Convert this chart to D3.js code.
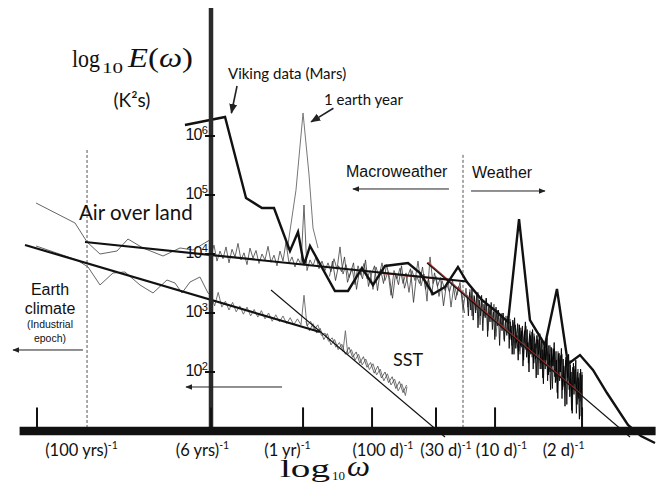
<!DOCTYPE html>
<html><head><meta charset="utf-8">
<script src="https://cdn.jsdelivr.net/npm/d3@7"></script>
<style>html,body{margin:0;padding:0;background:#fff;} svg{display:block;}</style>
</head><body><svg id="c" width="662" height="484"></svg>
<script>
// ---------- DATA (x: log10 omega in 1/yr, y: log10 E in K^2 s) ----------
const xTicks = [-2.225, -0.775, -0.008, 0.567, 1.10, 1.592, 2.317];
const xTickLabels = ["(100 yrs)", "(6 yrs)", "(1 yr)", "(100 d)", "(30 d)", "(10 d)", "(2 d)"];
const xTickLabelCenters = [-1.854, -0.846, -0.138, 0.658, 1.183, 1.646, 2.163];
const yTicks = [6, 5, 4, 3, 2];
const yTickLabels = ["6", "5", "4", "3", "2"];

// Viking (Mars) spectrum
const viking = [[-0.992,6.186],[-0.658,6.322],[-0.483,4.949],[-0.35,4.78],[-0.25,4.78],[-0.117,4.051],
 [-0.05,4.373],[0.0,3.814],[0.05,4.136],[0.258,3.373],[0.367,3.373],[0.483,3.763],[0.575,3.475],
 [0.675,3.797],[0.867,3.847],[0.967,3.678],[1.075,3.322],[1.175,3.441],[1.283,3.78],[1.358,3.525],
 [1.483,3.22],[1.608,3.017],[1.70,2.847],[1.792,4.593],[1.883,2.881],[2.008,2.458],[2.108,3.407],
 [2.20,2.136],[2.30,2.288],[2.408,2.034],[2.525,1.644],[2.70,1.102],[2.808,0.915],[2.925,0.797]];

// Air over land, long-period (low resolution)
const airLow = [[-2.233,4.864],[-1.908,4.525],[-1.808,4.203],[-1.70,4.0],[-1.558,4.051],[-1.467,4.254],
 [-1.342,4.102],[-1.175,3.966],[-1.033,4.102],[-0.925,4.068],[-0.758,4.271]];

// Earth climate / SST long-period (low resolution)
const sstLow = [[-2.233,4.136],[-1.892,3.898],[-1.80,3.78],[-1.70,3.475],[-1.592,3.678],[-1.492,3.695],
 [-1.367,3.475],[-1.258,3.339],[-1.142,3.559],[-1.075,3.508],[-1.017,3.339],[-0.95,3.525],
 [-0.867,3.61],[-0.80,3.339],[-0.775,3.30]];

// Air over land, high resolution
const airHigh = [[-0.775,3.98],[-0.75,4.15],[-0.725,3.88],[-0.70,4.05],[-0.675,3.92],[-0.65,4.12],
 [-0.625,3.85],[-0.60,4.08],[-0.575,3.95],[-0.55,4.18],[-0.525,3.90],[-0.50,4.02],[-0.475,3.82],
 [-0.45,4.10],[-0.425,3.93],[-0.40,4.06],[-0.375,3.84],[-0.35,4.00],[-0.325,3.90],[-0.30,4.13],
 [-0.275,3.86],[-0.25,3.98],[-0.225,3.80],[-0.20,4.05],[-0.175,3.88],[-0.15,4.20],[-0.125,3.84],
 [-0.10,3.95],[-0.075,3.78],[-0.05,3.92],[-0.025,3.82],[0.0,4.83],[0.025,3.72],[0.05,3.90],
 [0.075,3.80],[0.10,3.95],[0.125,3.75],[0.15,3.88],[0.175,3.72],[0.20,3.85],[0.225,3.70],
 [0.25,3.92],[0.275,3.74],[0.30,4.12],[0.325,3.66],[0.35,3.82],[0.375,3.60],[0.40,3.76],
 [0.425,3.48],[0.45,3.80],[0.475,3.64],[0.50,3.84],[0.525,3.58],[0.55,3.72],[0.575,3.40],
 [0.60,3.78],[0.625,3.62],[0.65,3.85],[0.675,3.55],[0.70,3.70],[0.725,3.30],[0.75,3.72],
 [0.775,3.58],[0.80,3.76],[0.825,3.50],[0.85,3.68],[0.875,3.35],[0.90,3.72],[0.925,3.55],
 [0.95,3.88],[0.975,3.46],[1.0,3.66],[1.025,3.20],[1.05,3.95],[1.075,3.50],[1.10,3.62],
 [1.125,3.28],[1.15,3.55],[1.175,3.38],[1.20,3.58],[1.225,3.10],[1.25,3.48],[1.275,3.30],
 [1.30,3.52],[1.325,3.05],[1.35,3.42],[1.367,3.10],[1.383,3.40],[1.40,2.95],[1.417,3.30],
 [1.433,3.05],[1.45,3.35],[1.467,2.80],[1.483,3.20],[1.50,2.95],[1.517,3.25],[1.533,2.70],
 [1.55,3.10],[1.567,2.85],[1.583,3.15],[1.60,2.60],[1.617,3.05],[1.633,2.80],[1.65,3.00],
 [1.667,2.55],[1.683,2.95],[1.70,2.70],[1.717,2.90],[1.733,2.45],[1.75,2.85],[1.767,2.60],
 [1.783,2.80],[1.80,2.30],[1.817,2.75],[1.833,2.50],[1.85,2.78],[1.867,2.35],[1.883,2.70],
 [1.90,2.25],[1.917,2.65],[1.933,2.40],[1.95,2.62],[1.967,2.05],[1.983,2.55],[2.0,2.20],
 [2.017,2.50],[2.033,1.95],[2.05,2.45],[2.067,2.10],[2.083,2.40],[2.10,1.85],[2.117,2.35],
 [2.133,2.00],[2.15,2.30],[2.167,1.75],[2.183,2.25],[2.20,1.85],[2.217,2.20],[2.233,1.60],
 [2.25,2.10],[2.267,1.70],[2.283,2.05],[2.30,1.50],[2.317,2.00],[2.317,1.05]];

// Air over land, high resolution: second (overlapping) pass in the macroweather range
const airDenseA = [[0.2125,3.62],[0.2375,3.88],[0.2625,3.55],[0.2875,3.80],[0.3125,3.70],[0.3375,3.95],
 [0.3625,3.52],[0.3875,3.68],[0.4125,3.85],[0.4375,3.40],[0.4625,3.72],[0.4875,3.58],[0.5125,3.90],
 [0.5375,3.45],[0.5625,3.66],[0.5875,3.80],[0.6125,3.38],[0.6375,3.74],[0.6625,3.50],[0.6875,3.82],
 [0.7125,3.60],[0.7375,3.25],[0.7625,3.66],[0.7875,3.48],[0.8125,3.80],[0.8375,3.42],[0.8625,3.62],
 [0.8875,3.75],[0.9125,3.18],[0.9375,3.64],[0.9625,3.50],[0.9875,3.78],[1.0125,3.40],[1.0375,3.58],
 [1.0625,3.30],[1.0875,3.68],[1.1125,3.45],[1.1375,3.60],[1.1625,3.12],[1.1875,3.50],[1.2125,3.36],
 [1.2375,3.55],[1.2625,3.22],[1.2875,3.45],[1.3125,3.35],[1.3375,3.00]];

// Air over land, high resolution: dense weather band
const airDenseB = [[1.36,3.30],[1.37,2.95],[1.38,3.35],[1.39,3.05],[1.40,3.42],[1.41,2.88],[1.42,3.28],
 [1.43,3.00],[1.44,3.35],[1.45,2.75],[1.46,3.22],[1.47,2.95],[1.48,3.30],[1.49,2.70],[1.50,3.15],
 [1.51,2.92],[1.52,3.25],[1.53,2.60],[1.54,3.10],[1.55,2.85],[1.56,3.18],[1.57,2.72],[1.58,3.02],
 [1.59,2.55],[1.60,3.10],[1.61,2.78],[1.62,3.05],[1.63,2.45],[1.64,2.98],[1.65,2.70],[1.66,3.00],
 [1.67,2.52],[1.68,2.90],[1.69,2.62],[1.70,2.95],[1.71,2.40],[1.72,2.85],[1.73,2.55],[1.74,2.88],
 [1.75,2.30],[1.76,2.80],[1.77,2.50],[1.78,2.82],[1.79,2.35],[1.80,2.75],[1.81,2.42],[1.82,2.78],
 [1.83,2.20],[1.84,2.70],[1.85,2.38],[1.86,2.72],[1.87,2.15],[1.88,2.65],[1.89,2.30],[1.90,2.68],
 [1.91,2.05],[1.92,2.60],[1.93,2.22],[1.94,2.62],[1.95,1.95],[1.96,2.55],[1.97,2.15],[1.98,2.58],
 [1.99,1.90],[2.00,2.50],[2.01,2.05],[2.02,2.52],[2.03,1.85],[2.04,2.45],[2.05,2.00],[2.06,2.42],
 [2.07,1.72],[2.08,2.38],[2.09,1.92],[2.10,2.35],[2.11,1.65],[2.12,2.30],[2.13,1.85],[2.14,2.28],
 [2.15,1.55],[2.16,2.22],[2.17,1.78],[2.18,2.20],[2.19,1.45],[2.20,2.15],[2.21,1.70],[2.22,2.12],
 [2.23,1.35],[2.24,2.08],[2.25,1.62],[2.26,2.05],[2.27,1.30],[2.28,2.00],[2.29,1.55],[2.30,1.98],
 [2.31,1.25],[2.317,1.95],[2.317,1.05]];
const airDenseC = [[1.705,2.95],[1.715,2.55],[1.725,2.78],[1.735,2.30],[1.745,2.68],[1.755,2.92],
 [1.765,2.40],[1.775,2.62],[1.785,2.20],[1.795,2.80],[1.805,2.45],[1.815,2.70],[1.825,2.10],
 [1.835,2.58],[1.845,2.85],[1.855,2.25],[1.865,2.50],[1.875,2.00],[1.885,2.62],[1.895,2.35],
 [1.905,2.72],[1.915,2.15],[1.925,2.48],[1.935,1.90],[1.945,2.55],[1.955,2.30],[1.965,2.65],
 [1.975,2.05],[1.985,2.38],[1.995,1.80],[2.005,2.48],[2.015,2.20],[2.025,2.58],[2.035,1.95],
 [2.045,2.30],[2.055,1.70],[2.065,2.40],[2.075,2.10],[2.085,2.50],[2.095,1.82],[2.105,2.20],
 [2.115,1.55],[2.125,2.32],[2.135,2.00],[2.145,2.40],[2.155,1.70],[2.165,2.10],[2.175,1.42],
 [2.185,2.25],[2.195,1.90],[2.205,2.30],[2.215,1.58],[2.225,2.00],[2.235,1.30],[2.245,2.15],
 [2.255,1.80],[2.265,2.20],[2.275,1.45],[2.285,1.90],[2.295,1.20],[2.305,2.05],[2.315,1.60]];

// SST, high resolution
const sstHigh = [[-0.775,3.30],[-0.745,3.12],[-0.715,3.35],[-0.685,3.10],[-0.655,3.20],[-0.625,3.05],
 [-0.595,3.18],[-0.565,3.02],[-0.535,3.12],[-0.505,2.98],[-0.475,3.10],[-0.445,2.95],[-0.415,3.06],
 [-0.385,2.93],[-0.355,3.04],[-0.325,2.90],[-0.295,3.00],[-0.265,2.86],[-0.235,2.97],[-0.205,2.85],
 [-0.175,2.95],[-0.145,2.82],[-0.115,2.92],[-0.085,2.80],[-0.055,2.90],[-0.025,2.80],[0.0,3.30],
 [0.025,2.78],[0.055,2.86],[0.085,2.72],[0.115,2.80],[0.145,2.62],[0.175,2.66],[0.205,2.52],
 [0.235,2.58],[0.265,2.42],[0.295,2.50],[0.325,2.35],[0.345,2.70],[0.365,2.30],[0.395,2.38],
 [0.425,2.20],[0.455,2.30],[0.485,2.12],[0.515,2.22],[0.545,2.04],[0.575,2.14],[0.605,1.95],
 [0.635,2.05],[0.665,1.85],[0.695,1.97],[0.725,1.78],[0.755,1.88],[0.785,1.68],[0.815,1.80],
 [0.845,1.60],[0.858,1.75]];
const sstDense = [[0.015,2.86],[0.045,2.70],[0.075,2.82],[0.105,2.66],[0.135,2.74],[0.165,2.55],
 [0.195,2.65],[0.225,2.46],[0.255,2.55],[0.285,2.38],[0.315,2.47],[0.345,2.30],[0.375,2.42],
 [0.405,2.25],[0.435,2.34],[0.465,2.15],[0.495,2.26],[0.525,2.08],[0.555,2.16],[0.585,1.98],
 [0.615,2.10],[0.645,1.90],[0.675,2.00],[0.705,1.82],[0.735,1.92],[0.765,1.72],[0.795,1.84],
 [0.825,1.65],[0.855,1.78]];

// Annual-cycle peak (thin line)
const annualPeak = [[-0.14,4.07],[-0.067,5.08],[-0.008,6.39],[0.042,5.34],[0.075,4.44],[0.117,4.10]];

// Fitted scaling lines
const fitUpper = [[-1.825,4.203],[1.358,3.534]];
const fitLower = [[-2.325,4.153],[0.133,2.678]];
const fitWeather = [[1.025,3.847],[2.717,0.898]];
const fitSST = [[-0.275,3.39],[1.175,0.898]];
const fitRedA = [[0.633,3.675],[1.192,3.56]];
const fitRedB = [[1.03,3.86],[2.317,1.61]];

// Regime boundaries (dashed)
const boundaries = [[-1.808,5.763],[1.325,5.68]];

// ---------- DRAW ----------
const svg = d3.select("#c");
const x = d3.scaleLinear().domain([-2.4, 2.95]).range([16, 658]);
const y = d3.scaleLinear().domain([0, 6]).range([490, 136]);
const line = d3.line().x(d => x(d[0])).y(d => y(d[1]));
const axisBase = 1.0, axisTop = 8.17, axisLeft = -2.37, axisRight = 2.93;

const defs = svg.append("defs");
function marker(id, size) {
  defs.append("marker").attr("id", id).attr("viewBox", "0 0 10 10").attr("refX", 9).attr("refY", 5)
    .attr("markerWidth", size).attr("markerHeight", size).attr("orient", "auto")
    .attr("markerUnits", "userSpaceOnUse")
    .append("path").attr("d", "M0,1 L10,5 L0,9 Z").attr("fill", "#222");
}
marker("ah", 7); marker("ahBig", 10);

// dashed regime boundaries
svg.selectAll(".bnd").data(boundaries).enter().append("line")
  .attr("x1", d => x(d[0])).attr("x2", d => x(d[0]))
  .attr("y1", d => y(d[1])).attr("y2", y(axisBase))
  .attr("stroke", "#555").attr("stroke-width", 1).attr("stroke-dasharray", "3,2");

function path(data, color, w) {
  return svg.append("path").attr("d", line(data)).attr("fill", "none").attr("stroke", color).attr("stroke-width", w);
}
// noisy spectra
path(sstLow, "#666", 1);
path(airLow, "#666", 1);
path(annualPeak, "#777", 1);
path(sstHigh, "#666", 0.9);
path(sstDense, "#444", 0.8);
path(airHigh, "#555", 0.9);
path(airDenseA, "#333", 0.8);
path(airDenseB, "#111", 0.9);
path(airDenseC, "#000", 0.9);

// fits
path(fitRedA, "#c0392b", 1.3);
path(fitRedB, "#a0302a", 1.3);
path(fitUpper, "#111", 2.2);
path(fitLower, "#111", 2.2);
path(fitWeather, "#111", 1.1);
path(fitSST, "#111", 1.1);

// Viking
path(viking, "#111", 2.4).attr("stroke-linejoin", "miter");

// axes
svg.append("line").attr("x1", x(-0.775)).attr("x2", x(-0.775)).attr("y1", y(axisTop)).attr("y2", y(axisBase))
  .attr("stroke", "#2a2a2a").attr("stroke-width", 4.5);
svg.append("line").attr("x1", x(axisLeft)).attr("x2", x(axisRight)).attr("y1", y(axisBase)).attr("y2", y(axisBase))
  .attr("stroke", "#111").attr("stroke-width", 8.5);
svg.selectAll(".xt").data(xTicks).enter().append("line")
  .attr("x1", d => x(d)).attr("x2", d => x(d)).attr("y1", y(axisBase)).attr("y2", y(1.4))
  .attr("stroke", "#111").attr("stroke-width", 2);
svg.selectAll(".yt").data(yTicks).enter().append("line")
  .attr("x1", x(-0.775) - 6).attr("x2", x(-0.775) + 4).attr("y1", d => y(d)).attr("y2", d => y(d))
  .attr("stroke", "#111").attr("stroke-width", 2);

// y tick labels
const yl = svg.selectAll(".yl").data(yTicks).enter().append("text")
  .attr("x", x(-0.775) - 4).attr("y", d => y(d) + 4).attr("text-anchor", "end")
  .attr("font-family", "Liberation Sans, Arial, sans-serif").attr("font-size", 16).attr("fill", "#111")
  .attr("letter-spacing", -0.8);
yl.append("tspan").text("10");
yl.append("tspan").attr("dy", -6).attr("font-size", 11).text((d, i) => yTickLabels[i]);

// x tick labels
const xl = svg.selectAll(".xl").data(xTickLabels).enter().append("text")
  .attr("x", (d, i) => x(xTickLabelCenters[i])).attr("y", 456).attr("text-anchor", "middle")
  .attr("font-family", "Lato, sans-serif").attr("font-size", 16.5).attr("fill", "#111");
xl.append("tspan").text(d => d);
xl.append("tspan").attr("dy", -7).attr("font-size", 10.5).text("-1");

// arrows (data coordinates)
const arrows = [
  {p: [[-0.558,6.847],[-0.605,6.39]], m: "ahBig", w: 1.6},
  {p: [[0.245,6.47],[0.06,6.24]], m: "ahBig", w: 1.6},
  {p: [[1.208,5.102],[0.408,5.102]], m: "ah", w: 1},
  {p: [[1.392,5.068],[2.008,5.068]], m: "ah", w: 1},
  {p: [[-1.842,2.373],[-2.425,2.373]], m: "ah", w: 1},
  {p: [[-0.183,1.746],[-0.983,1.746]], m: "ah", w: 1}
];
arrows.forEach(a => svg.append("path").attr("d", line(a.p)).attr("stroke", "#222")
  .attr("stroke-width", a.w).attr("fill", "none").attr("marker-end", `url(#${a.m})`));

// texts
function txt(s, px, py, fam, size, anchor) {
  return svg.append("text").attr("x", px).attr("y", py).attr("font-family", fam)
    .attr("font-size", size).attr("text-anchor", anchor || "start").attr("fill", "#111").text(s);
}
const calibri = "Lato, 'Open Sans', sans-serif";
const arial = "'Liberation Sans', Arial, sans-serif";
const serif = "'Liberation Serif', 'Times New Roman', serif";
txt("Viking data (Mars)", 228, 79, calibri, 15);
txt("1 earth year", 324, 105, calibri, 15);
txt("Macroweather", 346, 177, arial, 16);
txt("Weather", 472, 178, arial, 16);
txt("Air over land", 79, 220, calibri, 20.5);
txt("SST", 393, 366, calibri, 18);
txt("Earth", 50, 295, arial, 16, "middle");
txt("climate", 50, 314, arial, 16, "middle");
txt("(Industrial", 50, 328, arial, 10.5, "middle");
txt("epoch)", 50, 342, arial, 10.5, "middle");
txt("(K\u00B2s)", 132, 107, calibri, 19, "middle");

// y-axis title: log10 E(omega)
txt("log", 72, 67, serif, 25).attr("textLength", 28).attr("lengthAdjust", "spacingAndGlyphs");
txt("10", 102, 73, serif, 15).attr("textLength", 21).attr("lengthAdjust", "spacingAndGlyphs");
const t1 = svg.append("text").attr("x", 128).attr("y", 67).attr("font-family", serif).attr("font-size", 27)
  .attr("fill", "#111").attr("textLength", 65).attr("lengthAdjust", "spacingAndGlyphs");
t1.append("tspan").attr("font-style", "italic").text("E");
t1.append("tspan").text("(");
t1.append("tspan").attr("font-style", "italic").text("\u03C9");
t1.append("tspan").text(")");

// x-axis title: log10 omega
txt("log", 280, 477, serif, 25).attr("textLength", 50).attr("lengthAdjust", "spacingAndGlyphs");
txt("10", 332, 480, serif, 13).attr("textLength", 13).attr("lengthAdjust", "spacingAndGlyphs");
txt("\u03C9", 347, 476, serif, 30).attr("font-style", "italic").attr("textLength", 23).attr("lengthAdjust", "spacingAndGlyphs");
</script>
</body></html>
